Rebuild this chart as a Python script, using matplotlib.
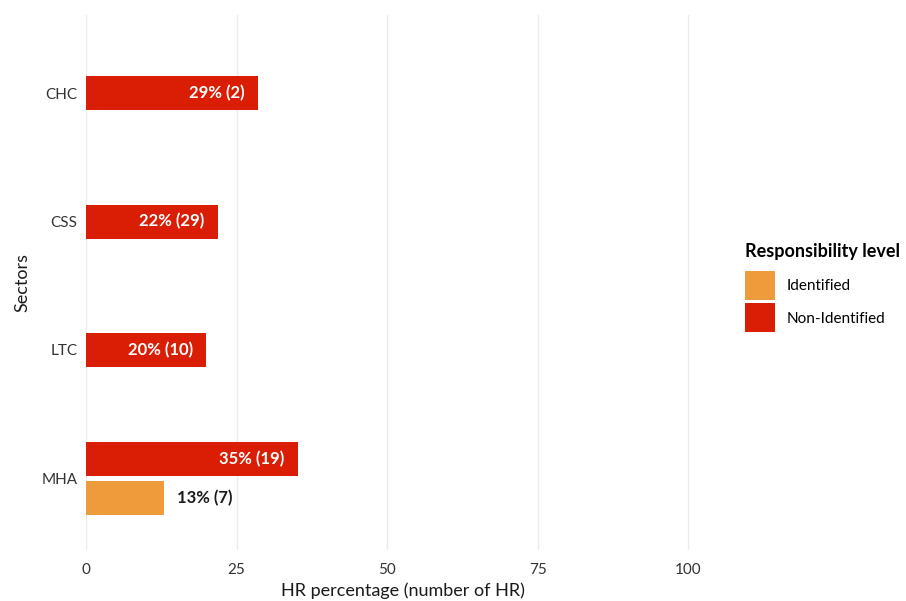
import numpy as np
import matplotlib
matplotlib.use("Agg")
import matplotlib.pyplot as plt

plt.rcParams['font.family'] = ['Lato', 'DejaVu Sans']

# data
sectors = ["CHC", "CSS", "LTC", "MHA"]
non_id_pct = [28.6, 21.9, 20.0, 35.2]
non_id_n = [2, 29, 10, 19]
id_sectors = ["MHA"]
id_pct = [12.96]
id_n = [7]
x_ticks = [0, 25, 50, 75, 100]

red = "#DA1E05"
orange = "#EE9C3B"

fig = plt.figure(figsize=(9.06, 6.01), dpi=100)
ax = fig.add_axes([86 / 906, 1 - 550 / 601, (720 - 86) / 906, (550 - 15) / 601])

# categories from top to bottom
ypos = {s: len(sectors) - i for i, s in enumerate(sectors)}
bar_h = 0.265
shift = 0.152

def offset(s):
    # dodge only where both levels exist
    return shift if s in id_sectors else 0.0

y_non = [ypos[s] + offset(s) for s in sectors]
y_id = [ypos[s] - shift for s in id_sectors]

b_id = ax.barh(y_id, id_pct, height=bar_h, color=orange, label="Identified", zorder=2)
b_non = ax.barh(y_non, non_id_pct, height=bar_h, color=red, label="Non-Identified", zorder=2)

for y, p, n in zip(y_non, non_id_pct, non_id_n):
    ax.annotate(f"{round(p)}% ({n})", (p, y), xytext=(-9.5, 0), textcoords="offset points",
                ha="right", va="center", color="white", fontsize=12, fontweight="bold", zorder=3)
for y, p, n in zip(y_id, id_pct, id_n):
    ax.annotate(f"{round(p)}% ({n})", (p, y), xytext=(9.5, 0), textcoords="offset points",
                ha="left", va="center", color="#1a1a1a", fontsize=12, fontweight="bold", zorder=3)

ax.set_xlim(0, 105.3)
ax.set_ylim(0.44, 4.61)
ax.set_xticks(x_ticks)
ax.set_xticklabels([str(t) for t in x_ticks])
ax.set_yticks([ypos[s] for s in sectors])
ax.set_yticklabels(sectors)
ax.tick_params(length=0, labelsize=11, colors="#333333", pad=6)
ax.tick_params(axis="x", pad=9)
ax.grid(axis="x", color="#EBEBEB", linewidth=1, zorder=0)
ax.grid(axis="y", visible=False)
for sp in ax.spines.values():
    sp.set_visible(False)

ax.set_xlabel("HR percentage (number of HR)", fontsize=13, color="#1a1a1a", labelpad=4)
ax.set_ylabel("Sectors", fontsize=13, color="#1a1a1a", labelpad=8)

leg = fig.legend(handles=[b_id, b_non], labels=["Identified", "Non-Identified"],
                 loc="upper left", bbox_to_anchor=(739 / 906, 1 - 237 / 601),
                 frameon=False, fontsize=11, title="Responsibility level",
                 title_fontproperties={"weight": "bold", "size": 13},
                 handlelength=1.95, handleheight=2.55, handletextpad=0.75,
                 labelspacing=0.2, alignment="left", borderaxespad=0)
leg._legend_box.sep = 8

fig.savefig("out.png", dpi=100)
